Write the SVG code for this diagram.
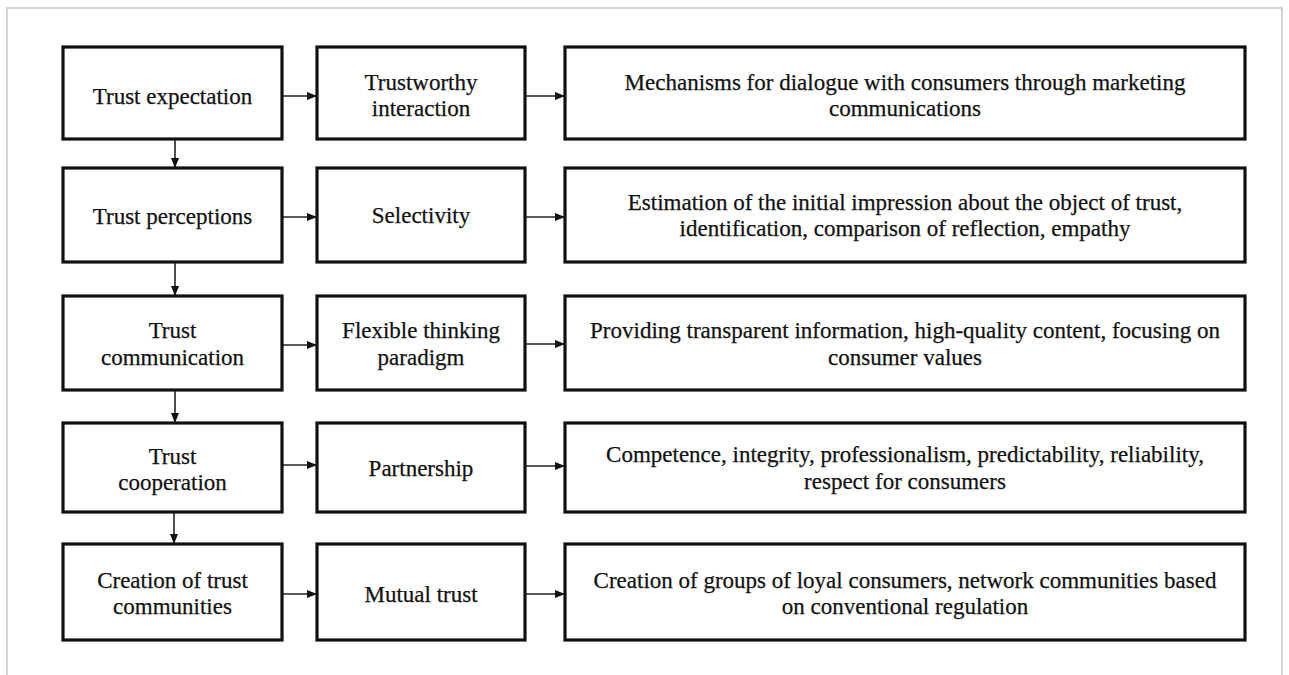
<svg xmlns="http://www.w3.org/2000/svg" width="1289" height="675" viewBox="0 0 1289 675">
<style>
.box{fill:#fff;stroke:#111;stroke-width:3.2}
.t{font-family:"Liberation Serif","Times New Roman",serif;font-size:23px;fill:#111;stroke:#111;stroke-width:0.25;text-anchor:middle}
.c{stroke:#222;stroke-width:1.6;fill:none;marker-end:url(#ah)}
</style>
<defs>
<marker id="ah" viewBox="0 0 10 10" refX="10" refY="5" markerWidth="10" markerHeight="10" markerUnits="userSpaceOnUse" orient="auto">
<path d="M0,1 L10,5 L0,9 Z" fill="#111"/>
</marker>
</defs>
<rect x="0" y="0" width="1289" height="675" fill="#fff"/>
<rect x="7" y="8" width="1275" height="720" fill="none" stroke="#d4d4d4" stroke-width="2"/>
<g id="connectors">
<line class="c" x1="282" y1="96" x2="317" y2="96"/>
<line class="c" x1="525" y1="96" x2="565" y2="96"/>
<line class="c" x1="282" y1="217" x2="317" y2="217"/>
<line class="c" x1="525" y1="217" x2="565" y2="217"/>
<line class="c" x1="282" y1="345" x2="317" y2="345"/>
<line class="c" x1="525" y1="344" x2="565" y2="344"/>
<line class="c" x1="282" y1="465" x2="317" y2="465"/>
<line class="c" x1="525" y1="466" x2="565" y2="466"/>
<line class="c" x1="282" y1="594" x2="317" y2="594"/>
<line class="c" x1="525" y1="594" x2="565" y2="594"/>
<line class="c" x1="175" y1="139" x2="175" y2="168"/>
<line class="c" x1="175" y1="262" x2="175" y2="296"/>
<line class="c" x1="175" y1="390" x2="175" y2="423"/>
<line class="c" x1="174" y1="512" x2="174" y2="544"/>
</g>
<g id="n1a"><rect class="box" x="63" y="47" width="219" height="92"/><text class="t" x="172.5" y="104">Trust expectation</text></g>
<g id="n1b"><rect class="box" x="317" y="47" width="208" height="92"/><text class="t" x="421" y="90">Trustworthy</text><text class="t" x="421" y="116">interaction</text></g>
<g id="n1c"><rect class="box" x="565" y="47" width="680" height="92"/><text class="t" x="905" y="90">Mechanisms for dialogue with consumers through marketing</text><text class="t" x="905" y="116">communications</text></g>
<g id="n2a"><rect class="box" x="63" y="168" width="219" height="94"/><text class="t" x="172.5" y="224">Trust perceptions</text></g>
<g id="n2b"><rect class="box" x="317" y="168" width="208" height="94"/><text class="t" x="421" y="223">Selectivity</text></g>
<g id="n2c"><rect class="box" x="565" y="168" width="680" height="94"/><text class="t" x="905" y="210">Estimation of the initial impression about the object of trust,</text><text class="t" x="905" y="236">identification, comparison of reflection, empathy</text></g>
<g id="n3a"><rect class="box" x="63" y="296" width="219" height="94"/><text class="t" x="172.5" y="338">Trust</text><text class="t" x="172.5" y="365">communication</text></g>
<g id="n3b"><rect class="box" x="317" y="296" width="208" height="94"/><text class="t" x="421" y="338">Flexible thinking</text><text class="t" x="421" y="365">paradigm</text></g>
<g id="n3c"><rect class="box" x="565" y="296" width="680" height="94"/><text class="t" x="905" y="338">Providing transparent information, high-quality content, focusing on</text><text class="t" x="905" y="365">consumer values</text></g>
<g id="n4a"><rect class="box" x="63" y="423" width="219" height="89"/><text class="t" x="172.5" y="464">Trust</text><text class="t" x="172.5" y="490">cooperation</text></g>
<g id="n4b"><rect class="box" x="317" y="423" width="208" height="89"/><text class="t" x="421" y="476">Partnership</text></g>
<g id="n4c"><rect class="box" x="565" y="423" width="680" height="89"/><text class="t" x="905" y="462">Competence, integrity, professionalism, predictability, reliability,</text><text class="t" x="905" y="489">respect for consumers</text></g>
<g id="n5a"><rect class="box" x="63" y="544" width="219" height="96"/><text class="t" x="172.5" y="588">Creation of trust</text><text class="t" x="172.5" y="614">communities</text></g>
<g id="n5b"><rect class="box" x="317" y="544" width="208" height="96"/><text class="t" x="421" y="602">Mutual trust</text></g>
<g id="n5c"><rect class="box" x="565" y="544" width="680" height="96"/><text class="t" x="905" y="588">Creation of groups of loyal consumers, network communities based</text><text class="t" x="905" y="614">on conventional regulation</text></g>
</svg>
